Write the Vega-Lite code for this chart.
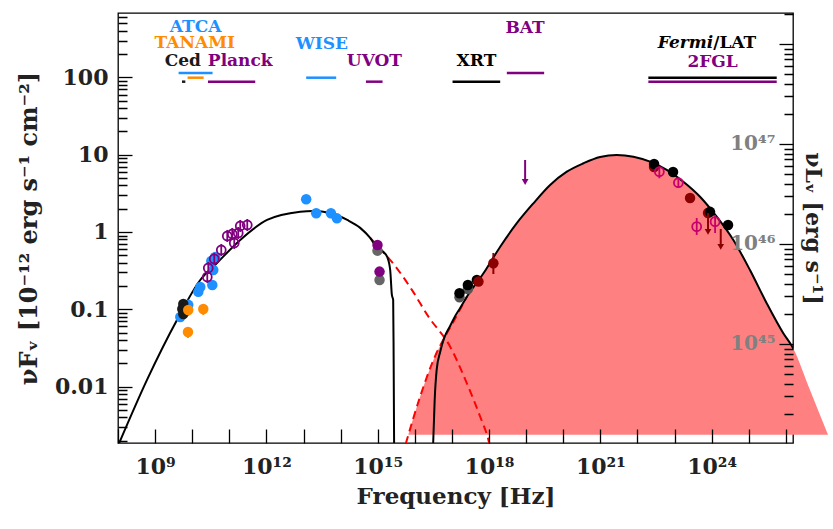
{
"$schema": "https://vega.github.io/schema/vega-lite/v6.json",
"width": 675,
"height": 430,
"autosize": {"type": "none"},
"padding": {"left": 118, "top": 13, "right": 40, "bottom": 86},
"background": "white",
"config": {
  "view": {"stroke": "black", "strokeWidth": 1.3},
  "axis": {"domainColor": "black", "domainWidth": 1.3, "tickColor": "black", "tickWidth": 1.3, "labelFont": "DejaVu Serif", "labelFontWeight": "bold", "labelFontSize": 22, "labelColor": "#222", "titleFont": "DejaVu Serif", "titleFontWeight": "bold", "titleFontSize": 23, "titleColor": "#222", "grid": false, "zindex": 1, "labelOverlap": false, "labelBound": false, "labelFlush": false},
  "text": {"font": "DejaVu Serif", "fontWeight": "bold", "fontSize": 17}
},
"datasets": {
  "sync": [
    {"nu": 1e8, "f": 0.00171}, {"nu": 6.05e8, "f": 0.0122}, {"nu": 3.89e9, "f": 0.0727}, {"nu": 1.65e10, "f": 0.239},
    {"nu": 4.66e10, "f": 0.397}, {"nu": 1.97e11, "f": 0.788}, {"nu": 1.04e12, "f": 1.43}, {"nu": 8.17e12, "f": 1.83},
    {"nu": 1.83e13, "f": 1.87}, {"nu": 5.25e13, "f": 1.76}, {"nu": 1.51e14, "f": 1.43}, {"nu": 3.37e14, "f": 1.13},
    {"nu": 6.27e14, "f": 0.836}, {"nu": 9.68e14, "f": 0.621}, {"nu": 1.41e15, "f": 0.551}, {"nu": 1.80e15, "f": 0.475},
    {"nu": 2.17e15, "f": 0.322}, {"nu": 2.41e15, "f": 0.153}, {"nu": 2.61e15, "f": 0.132}, {"nu": 2.69e15, "f": 0.0221},
    {"nu": 2.78e15, "f": 0.0012}
  ],
  "syncdash": [
    {"nu": 6.27e14, "f": 0.836}, {"nu": 1.41e15, "f": 0.551}, {"nu": 3.29e15, "f": 0.339}, {"nu": 8.34e15, "f": 0.178},
    {"nu": 2.33e16, "f": 0.0802}, {"nu": 8.97e16, "f": 0.0328}, {"nu": 2.53e17, "f": 0.0110}, {"nu": 5.77e17, "f": 0.00408},
    {"nu": 9.64e17, "f": 0.00204}, {"nu": 1.07e18, "f": 0.00166}
  ],
  "icdash": [
    {"nu": 5.68e15, "f": 0.00181}, {"nu": 1.39e16, "f": 0.0074}, {"nu": 3.18e16, "f": 0.0221}, {"nu": 7.31e16, "f": 0.0489},
    {"nu": 1.10e17, "f": 0.0691}, {"nu": 2.53e17, "f": 0.1455}
  ],
  "ic": [
    {"nu": 6.67e15, "f": 0.00237}, {"nu": 1.39e16, "f": 0.0074}, {"nu": 3.18e16, "f": 0.0221}, {"nu": 7.31e16, "f": 0.0489},
    {"nu": 1.10e17, "f": 0.0691}, {"nu": 2.53e17, "f": 0.1455}, {"nu": 7.08e17, "f": 0.292}, {"nu": 2.0e18, "f": 0.645},
    {"nu": 5.61e18, "f": 1.30}, {"nu": 1.57e19, "f": 2.35}, {"nu": 4.43e19, "f": 4.06}, {"nu": 1.25e20, "f": 6.03},
    {"nu": 3.50e20, "f": 7.74}, {"nu": 9.86e20, "f": 9.34}, {"nu": 2.77e21, "f": 9.91}, {"nu": 7.79e21, "f": 9.42},
    {"nu": 2.19e22, "f": 8.12}, {"nu": 6.17e22, "f": 6.34}, {"nu": 1.73e23, "f": 4.47}, {"nu": 4.87e23, "f": 2.86},
    {"nu": 1.37e24, "f": 1.58}, {"nu": 3.85e24, "f": 0.788}, {"nu": 1.08e25, "f": 0.322}, {"nu": 3.05e25, "f": 0.1196},
    {"nu": 8.55e25, "f": 0.0489}, {"nu": 1.56e26, "f": 0.0316}, {"nu": 4.48e26, "f": 0.00904}, {"nu": 1.37e27, "f": 0.00237}
  ],
  "total": [
    {"nu": 3.08e16, "f": 0.00151}, {"nu": 3.43e16, "f": 0.00671}, {"nu": 3.88e16, "f": 0.0164}, {"nu": 4.82e16, "f": 0.0280},
    {"nu": 6.18e16, "f": 0.0425}, {"nu": 8.97e16, "f": 0.0608}, {"nu": 1.15e17, "f": 0.0772}, {"nu": 1.67e17, "f": 0.104},
    {"nu": 2.53e17, "f": 0.1455}, {"nu": 7.08e17, "f": 0.292}, {"nu": 2.0e18, "f": 0.645},
    {"nu": 5.61e18, "f": 1.30}, {"nu": 1.57e19, "f": 2.35}, {"nu": 4.43e19, "f": 4.06}, {"nu": 1.25e20, "f": 6.03},
    {"nu": 3.50e20, "f": 7.74}, {"nu": 9.86e20, "f": 9.34}, {"nu": 2.77e21, "f": 9.91}, {"nu": 7.79e21, "f": 9.42},
    {"nu": 2.19e22, "f": 8.12}, {"nu": 6.17e22, "f": 6.34}, {"nu": 1.73e23, "f": 4.47}, {"nu": 4.87e23, "f": 2.86},
    {"nu": 1.37e24, "f": 1.58}, {"nu": 3.85e24, "f": 0.788}, {"nu": 1.08e25, "f": 0.322}, {"nu": 3.05e25, "f": 0.1196},
    {"nu": 8.55e25, "f": 0.0489}, {"nu": 1.56e26, "f": 0.0316}, {"nu": 4.48e26, "f": 0.00904}
  ],
  "pts": [
    {"inst": "ATCA", "nu": 4.78e9, "f": 0.0795}, {"inst": "ATCA", "nu": 7.83e9, "f": 0.114}, {"inst": "ATCA", "nu": 1.46e10, "f": 0.168},
    {"inst": "ATCA", "nu": 1.65e10, "f": 0.194}, {"inst": "ATCA", "nu": 3.48e10, "f": 0.206}, {"inst": "ATCA", "nu": 3.70e10, "f": 0.322},
    {"inst": "ATCA", "nu": 3.27e10, "f": 0.422}, {"inst": "ATCA", "nu": 4.19e10, "f": 0.475},
    {"inst": "Ced", "nu": 5.75e9, "f": 0.117}, {"inst": "Ced", "nu": 5.41e9, "f": 0.101}, {"inst": "Ced", "nu": 5.75e9, "f": 0.0869},
    {"inst": "TANAMI", "nu": 7.83e9, "f": 0.098, "lo": 0.082, "hi": 0.110}, {"inst": "TANAMI", "nu": 1.99e10, "f": 0.101, "lo": 0.0844, "hi": 0.114},
    {"inst": "TANAMI", "nu": 7.69e9, "f": 0.0508, "lo": 0.0425, "hi": 0.0574},
    {"inst": "WISE", "nu": 1.18e13, "f": 2.65}, {"inst": "WISE", "nu": 2.20e13, "f": 1.75}, {"inst": "WISE", "nu": 5.48e13, "f": 1.75},
    {"inst": "WISE", "nu": 7.94e13, "f": 1.50},
    {"inst": "UVOTold", "nu": 9.86e14, "f": 0.573}, {"inst": "UVOTold", "nu": 1.12e15, "f": 0.239},
    {"inst": "UVOT", "nu": 9.86e14, "f": 0.679}, {"inst": "UVOT", "nu": 1.12e15, "f": 0.307},
    {"inst": "XRTold", "nu": 1.60e17, "f": 0.143}, {"inst": "XRTold", "nu": 2.69e17, "f": 0.183},
    {"inst": "XRT", "nu": 1.60e17, "f": 0.161}, {"inst": "XRT", "nu": 2.69e17, "f": 0.206}, {"inst": "XRT", "nu": 4.70e17, "f": 0.239},
    {"inst": "XRTdark", "nu": 5.19e17, "f": 0.228}, {"inst": "XRTdark", "nu": 1.31e18, "f": 0.394, "lo": 0.286, "hi": 0.535},
    {"inst": "LATdark", "nu": 2.81e22, "f": 6.93}, {"inst": "LATdark", "nu": 2.62e23, "f": 2.75}, {"inst": "LATdark", "nu": 8.0e23, "f": 1.76},
    {"inst": "LAT", "nu": 2.81e22, "f": 7.58}, {"inst": "LAT", "nu": 9.12e22, "f": 5.97}, {"inst": "LAT", "nu": 9.06e23, "f": 1.82},
    {"inst": "LAT", "nu": 2.77e24, "f": 1.23}
  ],
  "open": [
    {"inst": "Planck", "nu": 2.55e10, "f": 0.262, "lo": 0.219, "hi": 0.313}, {"inst": "Planck", "nu": 2.71e10, "f": 0.342, "lo": 0.286, "hi": 0.409},
    {"inst": "Planck", "nu": 3.93e10, "f": 0.448, "lo": 0.375, "hi": 0.536}, {"inst": "Planck", "nu": 6.07e10, "f": 0.585, "lo": 0.489, "hi": 0.700},
    {"inst": "Planck", "nu": 8.81e10, "f": 0.888, "lo": 0.742, "hi": 1.062}, {"inst": "Planck", "nu": 1.20e11, "f": 0.942, "lo": 0.788, "hi": 1.127},
    {"inst": "Planck", "nu": 1.36e11, "f": 0.721, "lo": 0.603, "hi": 0.862}, {"inst": "Planck", "nu": 1.74e11, "f": 0.970, "lo": 0.811, "hi": 1.160},
    {"inst": "Planck", "nu": 1.97e11, "f": 1.196, "lo": 1.0, "hi": 1.430}, {"inst": "Planck", "nu": 3.05e11, "f": 1.232, "lo": 1.030, "hi": 1.473},
    {"inst": "2FGLpts", "nu": 3.90e22, "f": 6.03, "lo": 4.95, "hi": 7.0}, {"inst": "2FGLpts", "nu": 1.27e23, "f": 4.34, "lo": 3.71, "hi": 4.99},
    {"inst": "2FGLpts", "nu": 3.96e23, "f": 1.171, "lo": 0.915, "hi": 1.517}, {"inst": "2FGLpts", "nu": 1.24e24, "f": 1.359, "lo": 0.971, "hi": 1.66}
  ],
  "ul": [
    {"inst": "BAT", "nu": 9.40e18, "f": 8.54, "fend": 4.43},
    {"inst": "LATdark", "nu": 8.0e23, "f": 1.76, "fend": 1.0},
    {"inst": "LATdark", "nu": 1.76e24, "f": 1.093, "fend": 0.64}
  ],
  "bands": [
    {"inst": "ATCA", "nu": 4.30e9, "nu2": 3.54e10, "f": 114},
    {"inst": "TANAMI", "nu": 7.51e9, "nu2": 2.03e10, "f": 99.1},
    {"inst": "Ced", "nu": 5.31e9, "nu2": 6.52e9, "f": 88.0},
    {"inst": "Planck", "nu": 2.66e10, "nu2": 5.0e11, "f": 88.0},
    {"inst": "WISE", "nu": 1.18e13, "nu2": 7.6e13, "f": 99.1},
    {"inst": "UVOT", "nu": 4.81e14, "nu2": 1.35e15, "f": 88.0},
    {"inst": "XRT", "nu": 1.04e17, "nu2": 2.0e18, "f": 88.0},
    {"inst": "BAT", "nu": 3.02e18, "nu2": 3.06e19, "f": 114},
    {"inst": "LAT", "nu": 1.97e22, "nu2": 5.68e25, "f": 99.1},
    {"inst": "2FGL", "nu": 1.97e22, "nu2": 5.68e25, "f": 88.0}
  ],
  "labels": [
    {"inst": "ATCA", "text": "ATCA", "nu": 1.23e10, "f": 383},
    {"inst": "TANAMI", "text": "TANAMI", "nu": 1.17e10, "f": 238},
    {"inst": "Ced", "text": "Ced", "nu": 5.57e9, "f": 142},
    {"inst": "Planck", "text": "Planck", "nu": 1.97e11, "f": 142},
    {"inst": "WISE", "text": "WISE", "nu": 3.13e13, "f": 233},
    {"inst": "UVOT", "text": "UVOT", "nu": 8.15e14, "f": 140},
    {"inst": "BAT", "text": "BAT", "nu": 9.40e18, "f": 375},
    {"inst": "XRT", "text": "XRT", "nu": 4.58e17, "f": 140},
    {"inst": "2FGL", "text": "2FGL", "nu": 1.06e24, "f": 138}
  ],
  "fermi": [
    {"inst": "LAT", "text": "Fermi", "nu": 1.10e24, "f": 240}
  ],
  "lat": [
    {"inst": "LAT", "text": "/LAT", "nu": 1.10e24, "f": 240}
  ],
  "lumref": [
    {"l": 1e46}
  ]
},
"layer": [
  {
    "layer": [
      {
        "data": {"name": "ic"},
        "mark": {"type": "area", "color": "#FF8080", "clip": false, "interpolate": "monotone"},
        "encoding": {
          "x": {"field": "nu", "type": "quantitative", "scale": {"type": "log", "domain": [1e8, 1.56e26], "nice": false},
            "axis": {"values": [1e8,1e9,1e10,1e11,1e12,1e13,1e14,1e15,1e16,1e17,1e18,1e19,1e20,1e21,1e22,1e23,1e24,1e25,1e26],
              "labelExpr": "round(log(datum.value)/LN10)==9?'10⁹':round(log(datum.value)/LN10)==12?'10¹²':round(log(datum.value)/LN10)==15?'10¹⁵':round(log(datum.value)/LN10)==18?'10¹⁸':round(log(datum.value)/LN10)==21?'10²¹':round(log(datum.value)/LN10)==24?'10²⁴':''",
              "offset": -14, "domain": false, "tickSize": 14, "labelPadding": 30, "labelBaseline": "alphabetic", "zindex": 1,
              "title": "Frequency [Hz]", "titleX": 337.5, "titleY": 74, "titleBaseline": "alphabetic", "titleAlign": "center"}},
          "y": {"field": "f", "type": "quantitative", "scale": {"type": "log", "domain": [0.00186, 681], "nice": false},
            "axis": {"values": [0.002,0.003,0.004,0.005,0.006,0.007,0.008,0.009,0.01,0.02,0.03,0.04,0.05,0.06,0.07,0.08,0.09,0.1,0.2,0.3,0.4,0.5,0.6,0.7,0.8,0.9,1,2,3,4,5,6,7,8,9,10,20,30,40,50,60,70,80,90,100,200,300,400,500,600],
              "labelExpr": "abs(log(datum.value)/LN10-round(log(datum.value)/LN10))<0.01 ? (datum.value<1 ? format(datum.value,'.2~f') : format(datum.value,'d')) : ''",
              "offset": -14, "domain": false, "tickSize": 14,
              "tickDash": {"condition": {"test": "abs(log(datum.value)/LN10-round(log(datum.value)/LN10))<0.01", "value": [20, 0]}, "value": [0, 5, 9, 30]},
              "labelPadding": 10, "zindex": 1, "titleFontSize": 24,
              "title": "νFᵥ [10⁻¹² erg s⁻¹ cm⁻²]", "titleX": -102.5, "titleY": 215, "titleAngle": -90, "titleBaseline": "middle", "titleAlign": "center"}},
          "y2": {"datum": 0.00237}
        }
      },
      {
        "data": {"name": "syncdash"},
        "mark": {"type": "line", "color": "#FF0000", "strokeWidth": 2, "strokeDash": [8, 5], "clip": true, "interpolate": "monotone"},
        "encoding": {"x": {"field": "nu", "type": "quantitative"}, "y": {"field": "f", "type": "quantitative"}}
      },
      {
        "data": {"name": "icdash"},
        "mark": {"type": "line", "color": "#FF0000", "strokeWidth": 2, "strokeDash": [8, 5], "clip": true, "interpolate": "monotone"},
        "encoding": {"x": {"field": "nu", "type": "quantitative"}, "y": {"field": "f", "type": "quantitative"}}
      },
      {
        "data": {"name": "sync"},
        "mark": {"type": "line", "color": "black", "strokeWidth": 2, "clip": true, "interpolate": "monotone"},
        "encoding": {"x": {"field": "nu", "type": "quantitative"}, "y": {"field": "f", "type": "quantitative"}}
      },
      {
        "data": {"name": "total"},
        "mark": {"type": "line", "color": "black", "strokeWidth": 2, "clip": true, "interpolate": "monotone"},
        "encoding": {"x": {"field": "nu", "type": "quantitative"}, "y": {"field": "f", "type": "quantitative"}}
      },
      {
        "data": {"name": "pts"},
        "transform": [{"filter": "isValid(datum.lo)"}],
        "mark": {"type": "rule", "strokeWidth": 2},
        "encoding": {"x": {"field": "nu", "type": "quantitative"}, "y": {"field": "lo", "type": "quantitative"}, "y2": {"field": "hi"},
          "color": {"field": "inst", "type": "nominal", "legend": null,
            "scale": {"domain": ["ATCA","TANAMI","Ced","Planck","WISE","UVOT","UVOTold","XRT","XRTold","XRTdark","BAT","LAT","LATdark","2FGL","2FGLpts"],
              "range": ["#1E90FF","#FF8C00","#1a1a1a","#800080","#1E90FF","#800080","#666666","#000000","#555555","#8B0000","#800080","#000000","#8B0000","#800080","#C8006E"]}}}
      },
      {
        "data": {"name": "pts"},
        "mark": {"type": "point", "filled": true, "size": 110, "opacity": 1},
        "encoding": {"x": {"field": "nu", "type": "quantitative"}, "y": {"field": "f", "type": "quantitative"},
          "color": {"field": "inst", "type": "nominal", "legend": null}}
      },
      {
        "data": {"name": "open"},
        "mark": {"type": "rule", "strokeWidth": 1.8},
        "encoding": {"x": {"field": "nu", "type": "quantitative"}, "y": {"field": "lo", "type": "quantitative"}, "y2": {"field": "hi"},
          "color": {"field": "inst", "type": "nominal", "legend": null}}
      },
      {
        "data": {"name": "open"},
        "mark": {"type": "point", "filled": false, "size": 80, "strokeWidth": 1.8, "opacity": 1},
        "encoding": {"x": {"field": "nu", "type": "quantitative"}, "y": {"field": "f", "type": "quantitative"},
          "color": {"field": "inst", "type": "nominal", "legend": null}}
      },
      {
        "data": {"name": "ul"},
        "mark": {"type": "rule", "strokeWidth": 2},
        "encoding": {"x": {"field": "nu", "type": "quantitative"}, "y": {"field": "f", "type": "quantitative"}, "y2": {"field": "fend"},
          "color": {"field": "inst", "type": "nominal", "legend": null}}
      },
      {
        "data": {"name": "ul"},
        "mark": {"type": "point", "shape": "triangle-down", "filled": true, "size": 45, "opacity": 1},
        "encoding": {"x": {"field": "nu", "type": "quantitative"}, "y": {"field": "fend", "type": "quantitative"},
          "color": {"field": "inst", "type": "nominal", "legend": null}}
      },
      {
        "data": {"name": "bands"},
        "mark": {"type": "rule", "strokeWidth": 2.5},
        "encoding": {"x": {"field": "nu", "type": "quantitative"}, "x2": {"field": "nu2"}, "y": {"field": "f", "type": "quantitative"},
          "color": {"field": "inst", "type": "nominal", "legend": null}}
      },
      {
        "data": {"name": "labels"},
        "mark": {"type": "text", "align": "center", "baseline": "alphabetic"},
        "encoding": {"x": {"field": "nu", "type": "quantitative"}, "y": {"field": "f", "type": "quantitative"}, "text": {"field": "text"},
          "color": {"field": "inst", "type": "nominal", "legend": null}}
      },
      {
        "data": {"name": "fermi"},
        "mark": {"type": "text", "align": "right", "baseline": "alphabetic", "fontStyle": "italic"},
        "encoding": {"x": {"field": "nu", "type": "quantitative"}, "y": {"field": "f", "type": "quantitative"}, "text": {"field": "text"},
          "color": {"field": "inst", "type": "nominal", "legend": null}}
      },
      {
        "data": {"name": "lat"},
        "mark": {"type": "text", "align": "left", "baseline": "alphabetic"},
        "encoding": {"x": {"field": "nu", "type": "quantitative"}, "y": {"field": "f", "type": "quantitative"}, "text": {"field": "text"},
          "color": {"field": "inst", "type": "nominal", "legend": null}}
      }
    ]
  },
  {
    "data": {"name": "lumref"},
    "mark": {"type": "rule", "opacity": 0},
    "encoding": {
      "y": {"field": "l", "type": "quantitative", "scale": {"type": "log", "domain": [1.023e44, 2.04e48], "nice": false},
        "axis": {"orient": "right", "zindex": 1,
          "values": [2e44,3e44,4e44,5e44,6e44,7e44,8e44,9e44,1e45,2e45,3e45,4e45,5e45,6e45,7e45,8e45,9e45,1e46,2e46,3e46,4e46,5e46,6e46,7e46,8e46,9e46,1e47,2e47,3e47,4e47,5e47,6e47,7e47,8e47,9e47,1e48,2e48],
          "labelExpr": "abs(log(datum.value)/LN10-45)<0.01?'10⁴⁵':abs(log(datum.value)/LN10-46)<0.01?'10⁴⁶':abs(log(datum.value)/LN10-47)<0.01?'10⁴⁷':''",
          "offset": -14, "domain": false, "tickSize": 14,
          "tickDash": {"condition": {"test": "abs(log(datum.value)/LN10-round(log(datum.value)/LN10))<0.01", "value": [20, 0]}, "value": [0, 5, 9, 30]},
          "labelPadding": -18, "labelAlign": "right", "labelColor": "#808080", "labelFontSize": 20, "titleFontSize": 22,
          "title": "νLᵥ [erg s⁻¹]", "titleX": 33, "titleY": 215, "titleAngle": 90, "titleBaseline": "middle", "titleAlign": "center"}}
    }
  }
],
"resolve": {"scale": {"y": "independent"}}
}
